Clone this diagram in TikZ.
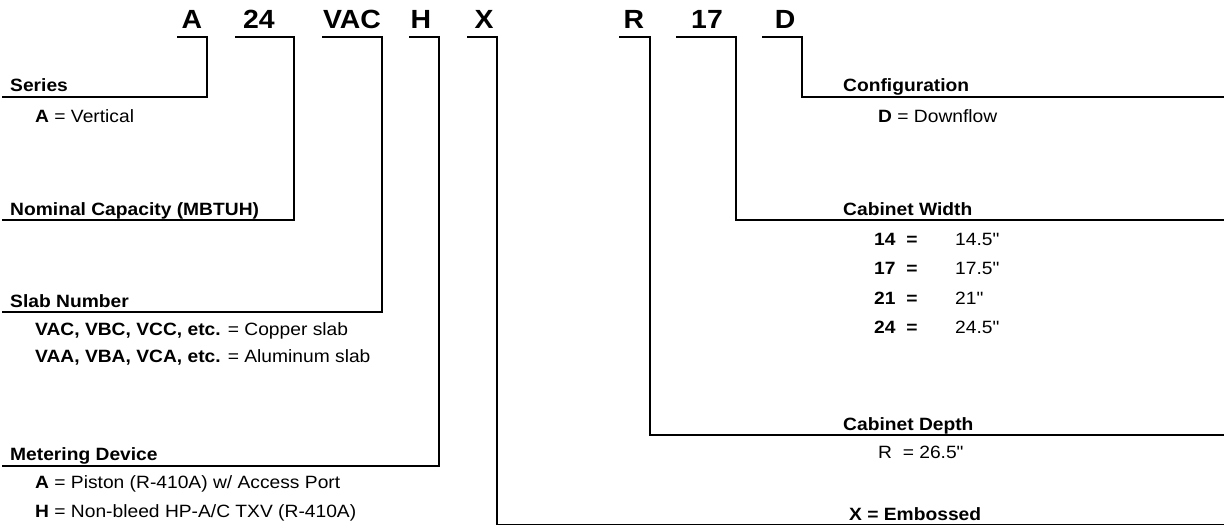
\documentclass[tikz,border=0pt]{standalone}
\usepackage{fontspec}
\setmainfont{Liberation Sans}[FakeStretch=1.08,Ligatures=TeXOff]
\newcommand{\inch}{"}
\begin{document}
\begin{tikzpicture}[x=1pt,y=-1pt,
  lead/.style={line width=1.8pt, line cap=rect},
  code/.style={anchor=base, inner sep=0pt, font=\fontsize{26.3}{30}\selectfont\bfseries},
  head/.style={anchor=base west, inner sep=0pt, font=\fontsize{17.8}{21}\selectfont\bfseries},
  item/.style={anchor=base west, inner sep=0pt, font=\fontsize{17.8}{21}\selectfont}]
\useasboundingbox (0,0) rectangle (1224,527);
% code letters
\node[code] (cA)   at (192,29) {A};
\node[code] (c24)  at (259,29) {24};
\node[code] (cVAC) at (352,29) {VAC};
\node[code] (cH)   at (421,29) {H};
\node[code] (cX)   at (484,29) {X};
\node[code] (cR)   at (634,29) {R};
\node[code] (c17)  at (707,29) {17};
\node[code] (cD)   at (785,29) {D};
% leader coordinates
\coordinate (A-l) at (178,37);   \coordinate (A-r) at (207,37);   \coordinate (A-e) at (3,97);
\coordinate (N-l) at (236,37);   \coordinate (N-r) at (294,37);   \coordinate (N-e) at (3,220);
\coordinate (V-l) at (323,37);   \coordinate (V-r) at (382,37);   \coordinate (V-e) at (3,312);
\coordinate (H-l) at (410,37);   \coordinate (H-r) at (439,37);   \coordinate (H-e) at (3,466);
\coordinate (X-l) at (468,37);   \coordinate (X-r) at (497,37);   \coordinate (X-e) at (1224,524.5);
\coordinate (R-l) at (620,37);   \coordinate (R-r) at (650,37);   \coordinate (R-e) at (1224,435);
\coordinate (W-l) at (677,37);   \coordinate (W-r) at (736,37);   \coordinate (W-e) at (1224,220);
\coordinate (D-l) at (763,37);   \coordinate (D-r) at (802,37);   \coordinate (D-e) at (1224,97);
\draw[lead] (A-l) -- (A-r) |- (A-e);
\draw[lead] (N-l) -- (N-r) |- (N-e);
\draw[lead] (V-l) -- (V-r) |- (V-e);
\draw[lead] (H-l) -- (H-r) |- (H-e);
\draw[lead] (X-l) -- (X-r) |- (X-e);
\draw[lead] (R-l) -- (R-r) |- (R-e);
\draw[lead] (W-l) -- (W-r) |- (W-e);
\draw[lead] (D-l) -- (D-r) |- (D-e);
% left texts
\node[head] (series) at (10,92) {Series};
\node[item] (seriesA) at (35,122) {\textbf{A} = Vertical};
\node[head] (nominal) at (10,215) {Nominal Capacity (MBTUH)};
\node[head] (slab) at (10,307) {Slab Number};
\node[item] (slab1) at (35,335) {\textbf{VAC, VBC, VCC, etc.} = Copper slab};
\node[item] (slab2) at (35,362) {\textbf{VAA, VBA, VCA, etc.} = Aluminum slab};
\node[head] (meter) at (10,460) {Metering Device};
\node[item] (meter1) at (35,488) {\textbf{A} = Piston (R-410A) w/ Access Port};
\node[item] (meter2) at (35,517) {\textbf{H} = Non-bleed HP-A/C TXV (R-410A)};
% right texts
\node[head] (config) at (843,92) {Configuration};
\node[item] (config1) at (878,122) {\textbf{D} = Downflow};
\node[head] (width) at (843,215) {Cabinet Width};
\node[head] (w14) at (874,245) {14\ \ =};  \node[item] (w14v) at (955,245) {14.5\inch};
\node[head] (w17) at (874,274) {17\ \ =};  \node[item] (w17v) at (955,274) {17.5\inch};
\node[head] (w21) at (874,304) {21\ \ =};  \node[item] (w21v) at (955,304) {21\inch};
\node[head] (w24) at (874,333) {24\ \ =};  \node[item] (w24v) at (955,333) {24.5\inch};
\node[head] (depth) at (843,430) {Cabinet Depth};
\node[item] (depth1) at (878,458) {R\ \ = 26.5\inch};
\node[head] (emb) at (849,520) {X = Embossed};
\end{tikzpicture}
\end{document}
